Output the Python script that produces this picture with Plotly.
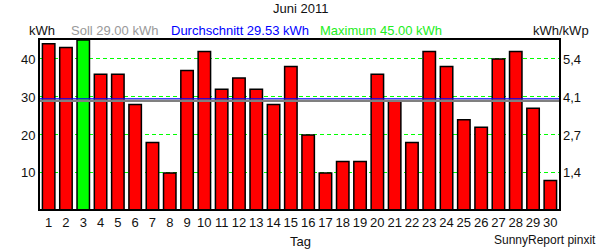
import plotly.graph_objects as go

# Data
days = list(range(1, 31))
energy_kwh = [44, 43, 45, 36, 36, 28, 18, 10, 37, 42,
              32, 35, 32, 28, 38, 20, 10, 13, 13, 36,
              29, 18, 42, 38, 24, 22, 40, 42, 27, 8]
soll_kwh = 29.00
kwp = 7.4
left_ticks = [10, 20, 30, 40]
right_labels = [f"{v / kwp:.1f}".replace(".", ",") for v in left_ticks]

avg_kwh = sum(energy_kwh) / len(energy_kwh)
max_kwh = max(energy_kwh)
colors = ["#00FF00" if v == max_kwh else "#FF0000" for v in energy_kwh]

FONT = "Liberation Sans, Arial, sans-serif"

fig = go.Figure()
fig.add_trace(go.Bar(
    x=days, y=energy_kwh, width=0.72,
    marker=dict(color=colors, line=dict(color="black", width=1.5)),
    showlegend=False, hoverinfo="x+y",
))
# invisible trace to activate right axis
fig.add_trace(go.Scatter(x=[days[0]], y=[left_ticks[0]], yaxis="y2",
                         mode="markers", marker=dict(opacity=0),
                         showlegend=False, hoverinfo="skip"))

fig.add_shape(type="line", xref="paper", x0=0, x1=1, yref="y",
              y0=soll_kwh, y1=soll_kwh, line=dict(color="#808080", width=2.5))
fig.add_shape(type="line", xref="paper", x0=0, x1=1, yref="y",
              y0=avg_kwh, y1=avg_kwh, line=dict(color="#0000FF", width=1))

pl, pr, pt, pb = 40, 600 - 41, 40, 250 - 41


def px_x(v):
    return (v - pl) / (pr - pl)


def px_y(v):
    return (pb - v) / (pb - pt)


def ann(text, x, y, xanchor="left", color="#111111", size=13):
    return dict(text=text, x=px_x(x), y=px_y(y), xref="paper", yref="paper",
                xanchor=xanchor, yanchor="middle", showarrow=False,
                font=dict(color=color, size=size))


yr = [0.5, 45]
fig.update_layout(
    width=600, height=250,
    margin=dict(l=40, r=41, t=40, b=41, autoexpand=False),
    paper_bgcolor="white", plot_bgcolor="white",
    font=dict(family=FONT, size=13, color="#111111"),
    xaxis=dict(range=[0.5, 30.5], tickmode="array", tickvals=days,
               ticktext=[str(d) for d in days], showgrid=False,
               showline=True, linecolor="black", linewidth=2, mirror=True,
               ticks="", zeroline=False, fixedrange=True, ticklabelstandoff=0,
               automargin=False),
    yaxis=dict(range=yr, tickmode="array", tickvals=left_ticks,
               showgrid=True, gridcolor="#00FF00", gridwidth=1, griddash="4px,3px",
               showline=True, linecolor="black", linewidth=2, mirror=True,
               ticks="", zeroline=False, fixedrange=True, automargin=False),
    yaxis2=dict(range=yr, overlaying="y", side="right", tickmode="array",
                tickvals=left_ticks, ticktext=right_labels, showgrid=False,
                showline=False, ticks="", zeroline=False, fixedrange=True,
                ticklabelstandoff=3, automargin=False),
    annotations=[
        ann("Juni 2011", 300, 9, xanchor="center"),
        ann("kWh", 27, 31),
        ann(f"Soll {soll_kwh:.2f} kWh", 69, 31, color="#999999"),
        ann(f"Durchschnitt {avg_kwh:.2f} kWh", 169, 31, color="#0000FF"),
        ann(f"Maximum {max_kwh:.2f} kWh", 318, 31, color="#22EE22"),
        ann("kWh/kWp", 531, 31),
        ann("Tag", 300, 242, xanchor="center"),
        ann("SunnyReport pinxit", 598, 240, xanchor="right", size=12),
    ],
)

fig.write_html("out.html")
